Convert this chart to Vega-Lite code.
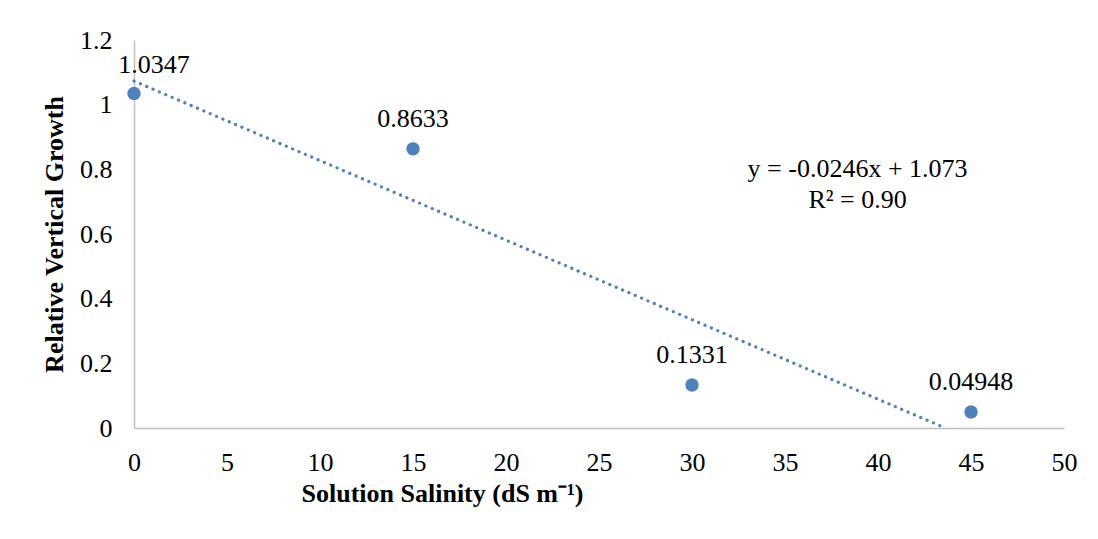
{
  "$schema": "https://vega.github.io/schema/vega-lite/v6.json",
  "width": 930,
  "height": 388,
  "autosize": {"type": "none"},
  "padding": {"left": 134, "top": 40, "right": 34, "bottom": 111},
  "background": "white",
  "config": {
    "view": {"stroke": null},
    "font": "Liberation Serif"
  },
  "datasets": {
    "pts": [
      {"salinity": 0, "growth": 1.0347, "label": "1.0347"},
      {"salinity": 15, "growth": 0.8633, "label": "0.8633"},
      {"salinity": 30, "growth": 0.1331, "label": "0.1331"},
      {"salinity": 45, "growth": 0.04948, "label": "0.04948"}
    ],
    "trend": [
      {"salinity": 0, "growth": 1.073},
      {"salinity": 43.62, "growth": 0}
    ],
    "eq": [
      {"salinity": 38.9, "growth": 0.775, "text": "y = -0.0246x + 1.073\nR² = 0.90"}
    ]
  },
  "encoding": {
    "x": {
      "field": "salinity", "type": "quantitative",
      "scale": {"domain": [0, 50], "nice": false, "zero": false},
      "axis": {
        "values": [0, 5, 10, 15, 20, 25, 30, 35, 40, 45, 50],
        "title": "Solution Salinity (dS m⁻¹)",
        "titleFont": "Liberation Serif", "titleFontSize": 26, "titleFontWeight": "bold", "titleColor": "black",
        "titleX": 308, "titleY": 73, "titleBaseline": "alphabetic", "titleAlign": "center",
        "labelFont": "Liberation Serif", "labelFontSize": 26, "labelColor": "black", "labelPadding": 21,
        "ticks": false, "grid": false, "domainColor": "#bfbfbf", "domainWidth": 1.5, "labelFlush": false
      }
    },
    "y": {
      "field": "growth", "type": "quantitative",
      "scale": {"domain": [0, 1.2], "nice": false},
      "axis": {
        "values": [0, 0.2, 0.4, 0.6, 0.8, 1, 1.2],
        "format": "~g",
        "title": "Relative Vertical Growth",
        "titleFont": "Liberation Serif", "titleFontSize": 26, "titleFontWeight": "bold", "titleColor": "black",
        "titleX": -67, "titleY": 194, "titleAngle": -90, "titleBaseline": "bottom", "titleAlign": "center",
        "labelFont": "Liberation Serif", "labelFontSize": 26, "labelColor": "black", "labelPadding": 22,
        "ticks": false, "grid": false, "domainColor": "#bfbfbf", "domainWidth": 1.5, "labelFlush": false
      }
    }
  },
  "layer": [
    {
      "data": {"name": "trend"},
      "mark": {"type": "line", "color": "#4F81BD", "strokeWidth": 3.2, "strokeCap": "round", "strokeDash": [0.1, 6.8], "clip": false}
    },
    {
      "data": {"name": "pts"},
      "mark": {"type": "circle", "color": "#4F81BD", "opacity": 1, "size": 180}
    },
    {
      "data": {"name": "pts"},
      "transform": [{"filter": "datum.salinity > 0"}],
      "mark": {"type": "text", "font": "Liberation Serif", "fontSize": 26, "color": "black", "baseline": "alphabetic", "dy": -22},
      "encoding": {"text": {"field": "label"}}
    },
    {
      "data": {"name": "pts"},
      "transform": [{"filter": "datum.salinity == 0"}],
      "mark": {"type": "text", "font": "Liberation Serif", "fontSize": 26, "color": "black", "baseline": "alphabetic", "dy": -20, "dx": 20},
      "encoding": {"text": {"field": "label"}}
    },
    {
      "data": {"name": "eq"},
      "mark": {"type": "text", "font": "Liberation Serif", "fontSize": 26, "color": "black", "baseline": "alphabetic", "lineBreak": "\n", "lineHeight": 31},
      "encoding": {"text": {"field": "text"}}
    }
  ]
}
